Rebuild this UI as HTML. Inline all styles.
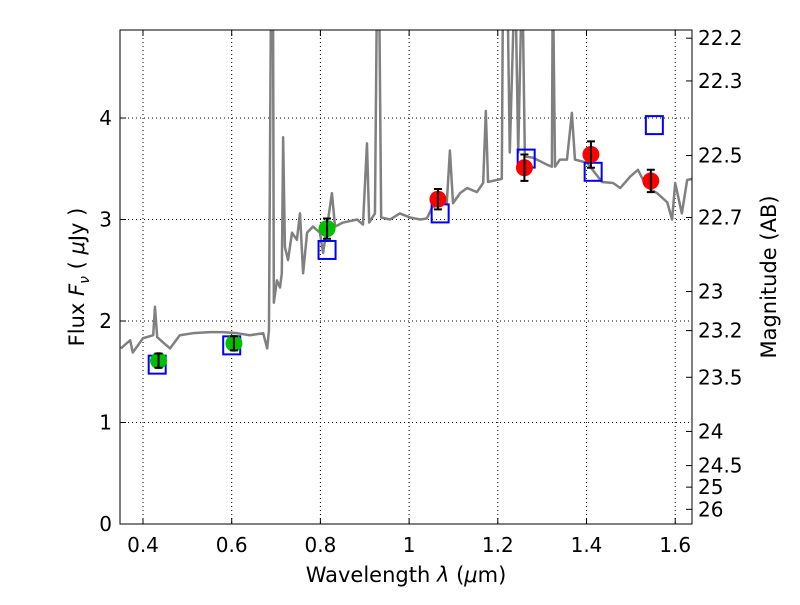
<!DOCTYPE html>
<html><head><meta charset="utf-8"><style>
body{margin:0;background:#fff}
svg text{font-family:"DejaVu Sans","Liberation Sans",sans-serif;fill:#000}
</style></head><body>
<svg id="chart" width="800" height="600" viewBox="0 0 800 600" xmlns="http://www.w3.org/2000/svg">
<defs><clipPath id="clip"><rect x="120" y="30" width="572" height="494"/></clipPath></defs>
<rect x="0" y="0" width="800" height="600" fill="#fff"/>
<g id="grid"></g>
<g id="spec" clip-path="url(#clip)"></g>
<g id="marks" clip-path="url(#clip)"></g>
<rect x="120" y="30" width="572" height="494" fill="none" stroke="#000" stroke-width="1"/>
<g id="axes"></g>
<text x="406" y="582" font-size="21" text-anchor="middle">Wavelength  <tspan font-style="italic">λ</tspan> (<tspan font-style="italic">μ</tspan>m)</text>
<text transform="translate(84,277) rotate(-90)" font-size="21" text-anchor="middle">Flux  <tspan font-style="italic">F</tspan><tspan font-style="italic" font-size="14" dy="5">ν</tspan><tspan dy="-5">  ( </tspan><tspan font-style="italic">μ</tspan>Jy )</text>
<text transform="translate(776,277) rotate(-90)" font-size="21" text-anchor="middle">Magnitude (AB)</text>
</svg>
<script>
const xTicks=[0.4,0.6,0.8,1.0,1.2,1.4,1.6];
const xTickLabels=["0.4","0.6","0.8","1","1.2","1.4","1.6"];
const yTicks=[0,1,2,3,4];
const magTicks=[22.2,22.3,22.5,22.7,23,23.2,23.5,24,24.5,25,26];
const specWl=[.350,.371,.377,.400,.423,.427,.432,.445,.461,.483,.513,.551,.580,.612,.641,.671,.680,.684,.689,.693,.695,.702,.709,.713,.716,.720,.727,.736,.747,.754,.761,.770,.783,.799,.806,.815,.826,.833,.851,.883,.896,.905,.910,.923,.928,.932,.937,.957,.979,1.002,1.025,1.040,1.052,1.085,1.092,1.099,1.115,1.131,1.153,1.167,1.173,1.178,1.209,1.212,1.221,1.227,1.239,1.246,1.255,1.261,1.279,1.311,1.322,1.324,1.329,1.340,1.356,1.367,1.374,1.401,1.435,1.460,1.476,1.498,1.516,1.536,1.559,1.582,1.593,1.600,1.615,1.627,1.638];
const specFlux=[1.73,1.81,1.69,1.83,1.86,2.14,1.84,1.79,1.73,1.86,1.88,1.89,1.89,1.88,1.86,1.88,1.73,1.91,5.5,5.5,2.18,2.40,2.33,2.47,3.81,2.73,2.60,2.87,2.80,3.06,2.47,2.87,2.93,2.87,2.67,2.93,3.26,2.93,2.97,3.00,2.95,3.75,2.97,3.06,5.5,5.5,3.02,3.00,3.06,3.02,3.00,3.01,3.12,3.16,3.68,3.16,3.26,3.31,3.27,3.36,4.07,3.37,3.40,5.5,5.5,3.66,5.5,3.66,5.5,3.62,3.61,3.54,3.52,5.5,3.52,3.59,3.59,4.05,3.59,3.56,3.37,3.36,3.31,3.42,3.49,3.32,3.26,3.17,3.00,3.36,3.06,3.39,3.40];
const greenWl=[0.435,0.605,0.815];
const greenFlux=[1.61,1.78,2.91];
const greenErr=[0.07,0.07,0.1];
const redWl=[1.065,1.26,1.41,1.545];
const redFlux=[3.2,3.51,3.64,3.38];
const redErr=[0.1,0.13,0.13,0.11];
const modelWl=[0.432,0.6,0.815,1.07,1.264,1.415,1.553];
const modelFlux=[1.57,1.76,2.70,3.06,3.60,3.47,3.93];

const X=v=>143+(v-0.4)*443.5;
const Y=v=>524-v*101.5;
const NS="http://www.w3.org/2000/svg";
function mk(t,a,p){const e=document.createElementNS(NS,t);for(const k in a)e.setAttribute(k,a[k]);p.appendChild(e);return e;}
const grid=document.getElementById('grid'),axes=document.getElementById('axes'),spec=document.getElementById('spec'),marks=document.getElementById('marks');

xTicks.forEach((t,i)=>{
  const g=mk('line',{x1:X(t),x2:X(t),y1:30,y2:524,stroke:'#000','stroke-dasharray':'1,3','stroke-width':1},grid);
  
  
  mk('line',{x1:X(t),x2:X(t),y1:524,y2:518,stroke:'#000'},axes);
  mk('line',{x1:X(t),x2:X(t),y1:30,y2:36,stroke:'#000'},axes);
  const tx=mk('text',{x:X(t),y:552,'font-size':20,'text-anchor':'middle'},axes);
  tx.textContent=xTickLabels[i];
  
  
});
yTicks.forEach(t=>{
  const g=mk('line',{x1:120,x2:692,y1:Y(t),y2:Y(t),stroke:'#000','stroke-dasharray':'1,3','stroke-width':1},grid);
  
  
  mk('line',{x1:120,x2:126,y1:Y(t),y2:Y(t),stroke:'#000'},axes);
  const tx=mk('text',{x:112,y:Y(t)+7,'font-size':20,'text-anchor':'end'},axes);
  tx.textContent=String(t);
  
  
});
magTicks.forEach(m=>{
  const f=Math.pow(10,(23.9-m)/2.5);
  const y=Y(f);
  mk('line',{x1:686,x2:692,y1:y,y2:y,stroke:'#000'},axes);
  const tx=mk('text',{x:698,y:y+7,'font-size':20},axes);
  tx.textContent=String(m);
  
  
});

const pl=mk('polyline',{points:specWl.map((w,i)=>X(w)+','+Y(specFlux[i])).join(' '),fill:'none',stroke:'#808080','stroke-width':2.5,'stroke-linejoin':'round'},spec);



modelWl.forEach((w,i)=>{
  const r=mk('rect',{x:X(w)-8.5,y:Y(modelFlux[i])-9,width:17,height:18,fill:'none',stroke:'#0000ff','stroke-width':2},marks);
  
  
});
function pts(wl,fl,er,col,name){
  wl.forEach((w,i)=>{
    const c=mk('circle',{cx:X(w),cy:Y(fl[i]),r:8.5,fill:col},marks);
    
    
    const y1=Y(fl[i]-er[i]),y2=Y(fl[i]+er[i]),x=X(w);
    const e=mk('path',{d:`M${x},${y1}V${y2}M${x-4},${y1}H${x+4}M${x-4},${y2}H${x+4}`,stroke:'#000','stroke-width':2,fill:'none'},marks);
    
    
  });
}
pts(greenWl,greenFlux,greenErr,'#00c000','green-photometry-point');
pts(redWl,redFlux,redErr,'#ff0000','red-photometry-point');
</script>
</body></html>
